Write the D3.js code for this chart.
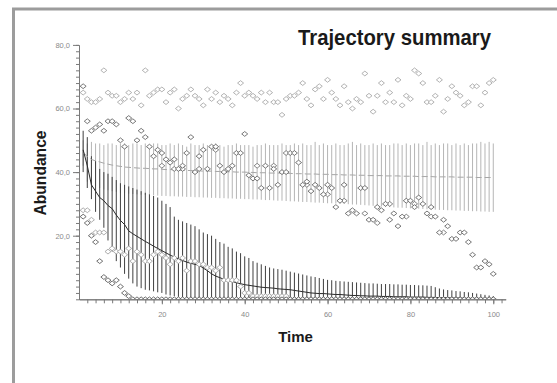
<!DOCTYPE html>
<html>
<head>
<meta charset="utf-8">
<script src="https://cdn.jsdelivr.net/npm/d3@7"></script>
<style>
  html, body { margin: 0; padding: 0; background: #fff; }
  svg { display: block; font-family: "Liberation Sans", Arial, sans-serif; }
</style>
</head>
<body>
<div id="chart"></div>
<script>
// time steps
const time = [
  1, 2, 3, 4, 5, 6, 7, 8, 9, 10, 11, 12, 13, 14, 15, 16, 17, 18, 19, 20,
  21, 22, 23, 24, 25, 26, 27, 28, 29, 30, 31, 32, 33, 34, 35, 36, 37, 38, 39, 40,
  41, 42, 43, 44, 45, 46, 47, 48, 49, 50, 51, 52, 53, 54, 55, 56, 57, 58, 59, 60,
  61, 62, 63, 64, 65, 66, 67, 68, 69, 70, 71, 72, 73, 74, 75, 76, 77, 78, 79, 80,
  81, 82, 83, 84, 85, 86, 87, 88, 89, 90, 91, 92, 93, 94, 95, 96, 97, 98, 99, 100
];

// stable model: mean and bar ends
const greyMean = [
  46, 45, 44, 43.5, 43.2, 42.8, 42.5, 42.2, 42, 41.8,
  41.6, 41.5, 41.4, 41.3, 41.2, 41.2, 41.1, 41, 41, 40.9,
  40.8, 40.8, 40.7, 40.6, 40.6, 40.5, 40.5, 40.4, 40.4, 40.3,
  40.3, 40.3, 40.2, 40.2, 40.2, 40.1, 40.1, 40, 40, 40,
  39.9, 39.9, 39.8, 39.8, 39.8, 39.7, 39.7, 39.7, 39.6, 39.6,
  39.6, 39.5, 39.5, 39.5, 39.4, 39.4, 39.4, 39.3, 39.3, 39.3,
  39.2, 39.2, 39.2, 39.1, 39.1, 39.1, 39, 39, 39, 38.9,
  38.9, 38.9, 38.9, 38.8, 38.8, 38.8, 38.8, 38.7, 38.7, 38.7,
  38.7, 38.6, 38.6, 38.6, 38.6, 38.5, 38.5, 38.5, 38.5, 38.5,
  38.4, 38.4, 38.4, 38.4, 38.4, 38.3, 38.3, 38.3, 38.3, 38.3
];
const greyHigh = [
  50, 49, 49.5, 49, 49, 48.5, 49, 49, 48.5, 49,
  49, 48.5, 49, 49, 48.5, 49, 48.5, 49, 49, 48.5,
  48.5, 49, 48.5, 49, 48.5, 48, 49, 48.5, 48.5, 49,
  48.5, 48.5, 49, 48.5, 48, 48.5, 48.5, 49, 48.5, 48.5,
  48.5, 48, 48.5, 48.5, 49, 48.5, 48.5, 48.5, 49, 48.5,
  48.5, 49, 48.5, 49, 48.5, 48.5, 49.5, 48.5, 49, 48.5,
  48.5, 49, 48.5, 48.5, 49, 49.5, 48.5, 49, 48.5, 48.5,
  49, 48.5, 49, 48.5, 48.5, 49, 49, 48.5, 49, 48.5,
  49, 49, 48.5, 49.5, 48.5, 49, 48.5, 49, 49, 48.5,
  49, 48.5, 49, 48.5, 49, 49, 49.5, 49, 49.5, 49
];
const greyLow = [
  42, 37, 36, 35.5, 35, 34.5, 34.3, 34, 33.8, 33.5,
  33.4, 33.2, 33.1, 33, 32.9, 32.8, 32.8, 32.7, 32.6, 32.5,
  32.5, 32.4, 32.4, 32.3, 32.3, 32.2, 32.2, 32.1, 32.1, 32,
  32, 31.9, 31.9, 31.8, 31.8, 31.7, 31.7, 31.6, 31.6, 31.5,
  31.5, 31.4, 31.4, 31.3, 31.2, 31.2, 31.1, 31, 31, 30.9,
  30.8, 30.8, 30.7, 30.6, 30.6, 30.5, 30.4, 30.4, 30.3, 30.2,
  30.2, 30.1, 30, 30, 29.9, 29.8, 29.8, 29.7, 29.6, 29.5,
  29.4, 29.3, 29.2, 29.1, 29, 28.9, 28.8, 28.8, 28.7, 28.6,
  28.5, 28.5, 28.4, 28.3, 28.3, 28.2, 28.1, 28.1, 28, 28,
  27.9, 27.9, 27.8, 27.8, 27.7, 27.7, 27.6, 27.6, 27.5, 27.5
];

// declining model: mean and bar ends
const darkMean = [
  47, 42, 36, 34, 32, 31, 29.5, 28.5, 26.5, 24.8,
  23.5, 21.5, 20.6, 19.8, 19, 18.2, 17.5, 16.7, 16, 15.3,
  14.6, 13.9, 13.3, 12.7, 12.2, 11.7, 11.3, 11, 10.7, 9.8,
  9, 8, 7.3, 6.8, 6.3, 6, 5.6, 5.2, 4.9, 4.6,
  4.4, 4.2, 4, 3.8, 3.7, 3.6, 3.5, 3.3, 3.2, 3.1,
  3, 2.8, 2.6, 2.4, 2.2, 2, 1.9, 1.8, 1.8, 1.7,
  1.6, 1.5, 1.5, 1.4, 1.3, 1.2, 1.2, 1.1, 1.1, 1,
  1, 1, 0.9, 0.9, 0.9, 0.8, 0.8, 0.8, 0.8, 0.7,
  0.7, 0.7, 0.7, 0.6, 0.6, 0.6, 0.5, 0.5, 0.5, 0.4,
  0.4, 0.4, 0.3, 0.3, 0.3, 0.3, 0.2, 0.2, 0.2, 0.2
];
const darkHigh = [
  53, 51, 45, 43.5, 41, 40, 39.5, 38.5, 37.5, 36.5,
  36, 35.5, 35, 34.5, 34, 33.5, 33, 32.5, 32, 31,
  30, 29, 26, 25, 24.5, 24, 23.5, 23, 22, 21,
  20.5, 20, 19, 18, 17.5, 16.5, 16, 15, 14.5, 13.5,
  13, 12, 11.5, 11, 10.5, 10, 9.7, 9.5, 9.3, 9,
  8.7, 8.4, 8.1, 7.8, 7.5, 7.2, 7, 6.7, 6.4, 6.1,
  6, 5.8, 5.7, 5.6, 5.5, 5.4, 5.3, 5.2, 5.1, 5,
  5, 4.9, 4.8, 4.8, 4.8, 4.7, 4.7, 4.6, 4.6, 4.5,
  4.5, 4.4, 4.4, 4.3, 4.2, 3.8, 3.4, 3.1, 2.9, 2.8,
  2.6, 2.5, 2.3, 2.2, 2, 1.8, 1.6, 1.4, 1.2, 1
];
const darkLow = [
  40, 35, 31.5, 27.5, 25, 22.5, 18.5, 15, 12, 10,
  8, 6.5, 5, 4, 3.5, 3, 2.8, 2.5, 2.2, 2,
  1.5, 1.2, 1, 0.8, 0.5, 0.3, 0, 0, 0, 0,
  0, 0, 0, 0, 0, 0, 0, 0, 0, 0,
  0, 0, 0, 0, 0, 0, 0, 0, 0, 0,
  0, 0, 0, 0, 0, 0, 0, 0, 0, 0,
  0, 0, 0, 0, 0, 0, 0, 0, 0, 0,
  0, 0, 0, 0, 0, 0, 0, 0, 0, 0,
  0, 0, 0, 0, 0, 0, 0, 0, 0, 0,
  0, 0, 0, 0, 0, 0, 0, 0, 0, 0
];

// sample trajectories
const topGray = [
  65, 63, 62, 62, 63, 72, 65, 64, 64, 62,
  63, 65, 63, 65, 61, 72, 64, 65, 66, 66,
  62, 65, 66, 60, 63, 64, 66, 64, 63, 61,
  66, 63, 65, 62, 64, 63, 61, 65, 68, 64,
  65, 64, 63, 65, 62, 65, 62, 62, 58, 63,
  64, 64, 65, 68, 63, 61, 66, 67, 63, 69,
  65, 63, 61, 67, 62, 60, 63, 62, 71, 64,
  59, 64, 68, 62, 65, 62, 69, 61, 64, 63,
  72, 71, 68, 62, 62, 64, 69, 59, 63, 67,
  65, 64, 61, 62, 67, 67, 61, 65, 68, 69
];
const midDark = [
  67, 56, 53, 54, 55, 53, 56, 56, 55, 50,
  48, 57, 56, 50, 53, 51, 48, 45, 47, 46,
  44, 43, 44, 41, 42, 46, 51, 40, 45, 47,
  41, 48, 48, 42, 40, 41, 42, 46, 46, 52,
  39, 38, 38, 35, 42, 35, 41, 36, 40, 40,
  46, 46, 43, 36, 37, 34, 36, 35, 33, 36,
  35, 29, 31, 36, 27, 28, 27, 35, 35, 25,
  25, 29, 28, 30, 25, 27, 23, 26, 31, 31,
  29, 32, 30, 27, 29, 26, 21, 25, 23, 19,
  19, 21, 21, 18, 14, 10, 10, 12, 11, 8
];
const extraTime = [20, 23, 25, 29, 33, 43, 47, 50, 55, 60, 64, 69, 72, 75, 79, 81, 85, 88];
const extraValues = [42, 41, 41, 41, 47, 42, 42, 46, 36, 33, 31, 27, 24, 30, 26, 30, 26, 21];
const lowGray = [
  28, 28, 25, 21, 21, 21, 15, 16, 15, 15,
  14, 16, 12, 15, 14, 12, 12, 14, 15, 14,
  13, 11, 13, 12, 13, 9, 12, 12, 11, 11,
  10, 10, 9, 10, 6, 6, 6, 6, 4, 2,
  2, 1, 1, 1, 1, 1, 1, 1, 1, 1,
  0, 0, 0, 0, 0, 0, 0, 0, 0, 0,
  0, 0, 0, 0, 0, 0, 0, 0, 0, 0,
  0, 0, 0, 0, 0, 0, 0, 0, 0, 0,
  0, 0, 0, 0, 0, 0, 0, 0, 0, 0,
  0, 0, 0, 0, 0, 0, 0, 0, 0, 0
];
const lowDark = [
  26, 24, 20, 18, 12, 7, 6, 5, 6, 4,
  2, 1, 0, 0, 0, 0, 0, 0, 0, 0,
  0, 0, 0, 0, 0, 0, 0, 0, 0, 0,
  0, 0, 0, 0, 0, 0, 0, 0, 0, 0,
  0, 0, 0, 0, 0, 0, 0, 0, 0, 0,
  0, 0, 0, 0, 0, 0, 0, 0, 0, 0,
  0, 0, 0, 0, 0, 0, 0, 0, 0, 0,
  0, 0, 0, 0, 0, 0, 0, 0, 0, 0,
  0, 0, 0, 0, 0, 0, 0, 0, 0, 0,
  0, 0, 0, 0, 0, 0, 0, 0, 0, 0
];

const xMajor = [20, 40, 60, 80, 100];
const yMajor = [20, 40, 60, 80];

const width = 557, height = 383;

const svg = d3.select('#chart')
  .append('svg')
  .attr('width', width)
  .attr('height', height);

svg.append('rect').attr('width', width).attr('height', height).attr('fill', '#fff');

// frame
svg.append('line').attr('x1', 12).attr('x2', width).attr('y1', 9).attr('y2', 9)
  .attr('stroke', '#9c9c9c').attr('stroke-width', 3);
svg.append('line').attr('x1', 13.5).attr('x2', 13.5).attr('y1', 8).attr('y2', height)
  .attr('stroke', '#9c9c9c').attr('stroke-width', 3);

const x = d3.scaleLinear().domain([0, 103]).range([79, 505.7]);
const y = d3.scaleLinear().domain([0, 80]).range([299.3, 44.9]);

// plot area clip: marks at zero are cut by the x axis
svg.append('defs').append('clipPath').attr('id', 'plot')
  .append('rect')
  .attr('x', x(0)).attr('y', y(80) - 10)
  .attr('width', x(103) - x(0)).attr('height', y(0) - y(80) + 10);

const plot = svg.append('g').attr('clip-path', 'url(#plot)');

// error bars
plot.append('g').selectAll('line')
  .data(time)
  .enter()
  .append('line')
  .attr('x1', (d) => x(d)).attr('x2', (d) => x(d))
  .attr('y1', (d, i) => y(greyLow[i]))
  .attr('y2', (d, i) => y(greyHigh[i]))
  .attr('stroke', '#b5b5b5')
  .attr('stroke-width', 1);

plot.append('g').selectAll('line')
  .data(time)
  .enter()
  .append('line')
  .attr('x1', (d) => x(d)).attr('x2', (d) => x(d))
  .attr('y1', (d, i) => y(darkLow[i]))
  .attr('y2', (d, i) => y(darkHigh[i]))
  .attr('stroke', '#3f3f3f')
  .attr('stroke-width', 1);

// mean lines
const line = (vals) => d3.line()
  .x((d) => x(d))
  .y((d, i) => y(vals[i]))(time);

plot.append('path')
  .attr('d', line(greyMean))
  .attr('fill', 'none')
  .attr('stroke', '#a6a6a6')
  .attr('stroke-width', 1)
  .attr('stroke-dasharray', '6,3');

plot.append('path')
  .attr('d', line(darkMean))
  .attr('fill', 'none')
  .attr('stroke', '#2a2a2a')
  .attr('stroke-width', 1);

// diamonds
const diamond = 'M0,-2.4L3,0L0,2.4L-3,0Z';
const drawPoints = (ts, vals, color) => {
  plot.append('g')
    .selectAll('path')
    .data(ts)
    .enter()
    .append('path')
    .attr('d', diamond)
    .attr('transform', (d, i) => `translate(${x(d)},${y(vals[i])})`)
    .attr('fill', '#fff')
    .attr('stroke', color)
    .attr('stroke-width', 0.8);
};

drawPoints(time, lowGray, '#9a9a9a');
drawPoints(time, lowDark, '#4d4d4d');
drawPoints(time, topGray, '#a0a0a0');
drawPoints(extraTime, extraValues, '#666');
drawPoints(time, midDark, '#555');

// axes
const axisColor = '#7a7a7a';
const fmt = (d) => d3.format('.1f')(d).replace('.', ',');

const yMinorG = svg.append('g')
  .attr('transform', `translate(${x(0)},0)`)
  .call(d3.axisLeft(y).tickValues(d3.range(0, 81, 2)).tickSize(3).tickSizeOuter(0).tickFormat(''));
const yMajorG = svg.append('g')
  .attr('transform', `translate(${x(0)},0)`)
  .call(d3.axisLeft(y).tickValues(yMajor).tickSize(6).tickSizeOuter(0).tickPadding(3).tickFormat(fmt));

const xMinorG = svg.append('g')
  .attr('transform', `translate(0,${y(0)})`)
  .call(d3.axisBottom(x).tickValues(d3.range(2, 103, 2)).tickSize(4).tickSizeOuter(0).tickFormat(''));
const xMajorG = svg.append('g')
  .attr('transform', `translate(0,${y(0)})`)
  .call(d3.axisBottom(x).tickValues(xMajor).tickSize(5).tickSizeOuter(0).tickPadding(7).tickFormat(d3.format('d')));

[yMinorG, yMajorG, xMinorG, xMajorG].forEach((g) => {
  g.selectAll('path').attr('stroke', axisColor);
  g.selectAll('line').attr('stroke', axisColor);
  g.selectAll('text')
    .attr('fill', '#8a8a8a')
    .style('font-size', '7.5px')
    .style('font-family', '"Liberation Sans", Arial, sans-serif');
});

// titles
svg.append('text')
  .attr('x', 298).attr('y', 45)
  .attr('textLength', 193).attr('lengthAdjust', 'spacingAndGlyphs')
  .style('font-size', '22px').style('font-weight', 'bold')
  .attr('fill', '#1a1a1a')
  .text('Trajectory summary');

svg.append('text')
  .attr('transform', 'translate(45.5,173) rotate(-90)')
  .attr('text-anchor', 'middle')
  .attr('textLength', 85).attr('lengthAdjust', 'spacingAndGlyphs')
  .style('font-size', '16px').style('font-weight', 'bold')
  .attr('fill', '#1a1a1a')
  .text('Abundance');

svg.append('text')
  .attr('x', 295.5).attr('y', 341.5)
  .attr('text-anchor', 'middle')
  .style('font-size', '15px').style('font-weight', 'bold')
  .attr('fill', '#1a1a1a')
  .text('Time');
</script>
</body>
</html>
